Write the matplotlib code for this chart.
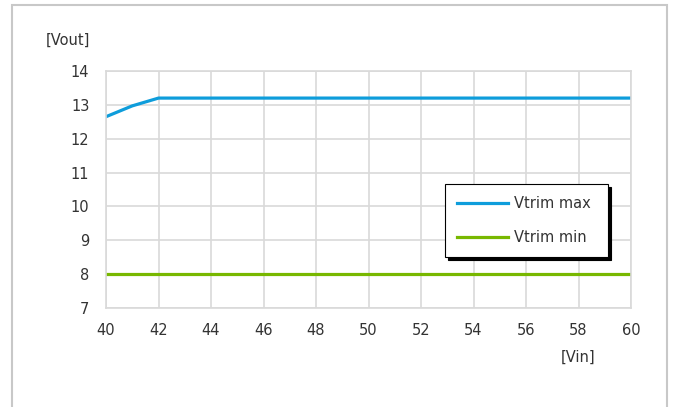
import matplotlib.pyplot as plt
from matplotlib.patches import Rectangle

plt.rcParams['font.family'] = ['DejaVu Sans']

# Data
vin = [40, 41, 42, 44, 46, 48, 50, 52, 54, 56, 58, 60]
vtrim_max = [12.65, 12.97, 13.2, 13.2, 13.2, 13.2, 13.2, 13.2, 13.2, 13.2, 13.2, 13.2]
vtrim_min = [8, 8, 8, 8, 8, 8, 8, 8, 8, 8, 8, 8]

fig = plt.figure(figsize=(6.76, 4.07), dpi=100)

# outer grey frame of the chart area
fig.patches.append(Rectangle((12 / 676, -0.05), 655 / 676, 1 - 5 / 407 + 0.05,
                             transform=fig.transFigure, fill=False,
                             edgecolor="#c8c8c8", linewidth=1.5))

ax = fig.add_axes([106 / 676, 1 - 308 / 407, 525 / 676, 237 / 407])

ax.plot(vin, vtrim_max, color="#0e9ddb", linewidth=2.3, label="Vtrim max")
ax.plot(vin, vtrim_min, color="#78b800", linewidth=2.3, label="Vtrim min")

ax.set_xlim(40, 60)
ax.set_ylim(7, 14)
ax.set_xticks(range(40, 61, 2))
ax.set_yticks(range(7, 15))
ax.grid(True, color="#d9d9d9", linewidth=1.2)
ax.set_axisbelow(True)
for s in ax.spines.values():
    s.set_color("#d9d9d9")
    s.set_linewidth(1.2)
ax.tick_params(axis="both", length=0, labelsize=10.5, colors="#333333")
ax.tick_params(axis="x", pad=11)
ax.tick_params(axis="y", pad=12)

fig.text(68 / 676, 1 - 40 / 407, "[Vout]", fontsize=10.5, color="#333333",
         ha="center", va="center")
fig.text(578 / 676, 1 - 357 / 407, "[Vin]", fontsize=10.5, color="#333333",
         ha="center", va="center")

leg = ax.legend(loc="upper left", bbox_to_anchor=(339 / 525, 124 / 237, 163 / 525, 0),
                mode="expand", fancybox=False,
                shadow={"color": "black", "alpha": 1}, edgecolor="black",
                framealpha=1, fontsize=10.5, handlelength=3.5, handletextpad=0.4,
                labelspacing=1.35, borderpad=0.8, borderaxespad=0)
leg.get_frame().set_linewidth(0.8)
for t in leg.get_texts():
    t.set_color("#333333")

fig.savefig("out.png", dpi=100)
